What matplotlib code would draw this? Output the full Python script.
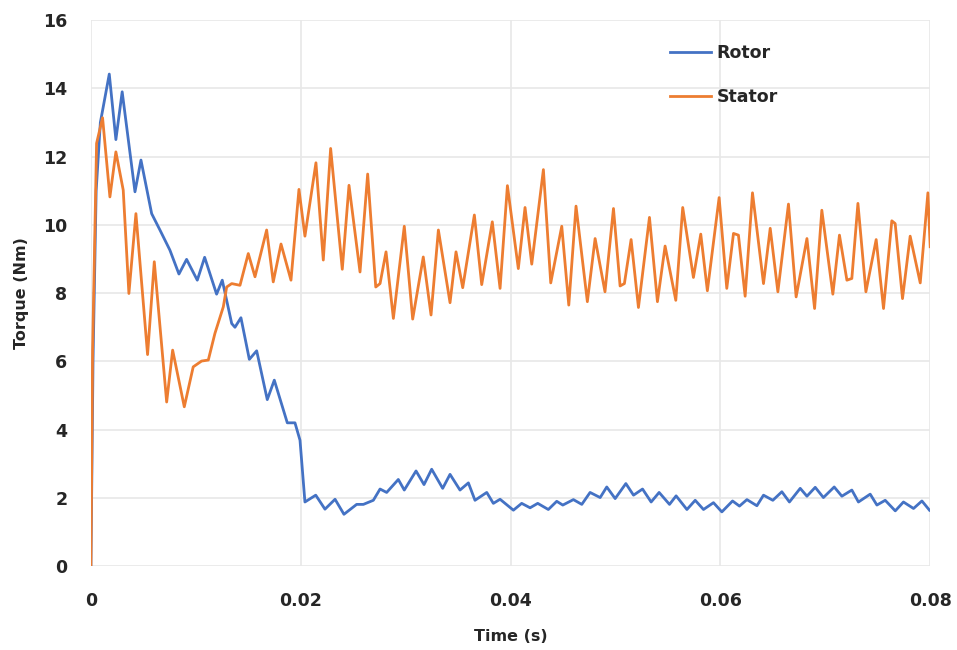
import matplotlib.pyplot as plt
from matplotlib.ticker import FixedLocator, FixedFormatter

# values (time in s, torque in Nm)
rotor_t = [0, 0.0002, 0.0005, 0.0009, 0.00175, 0.00238, 0.00298, 0.0042, 0.00477, 0.00579,
           0.00658, 0.00753, 0.00839, 0.00912, 0.01014, 0.01084, 0.01198, 0.01252, 0.01342,
           0.01373, 0.0143, 0.0151, 0.0158, 0.01681, 0.01748, 0.01872, 0.01945, 0.01993,
           0.0204, 0.02143, 0.02231, 0.02327, 0.02412, 0.02533, 0.02597, 0.02692, 0.02756,
           0.02819, 0.0293, 0.02987, 0.03099, 0.03175, 0.03248, 0.03353, 0.03423, 0.03518,
           0.03598, 0.03661, 0.03773, 0.03836, 0.039, 0.04027, 0.04106, 0.04186, 0.04259,
           0.0436, 0.0444, 0.04498, 0.04599, 0.04679, 0.04758, 0.04854, 0.04917, 0.04997,
           0.05099, 0.05172, 0.05258, 0.0534, 0.05416, 0.05515, 0.05578, 0.05681, 0.0576,
           0.05839, 0.05934, 0.06014, 0.06116, 0.06182, 0.06253, 0.06348, 0.06411, 0.065,
           0.06586, 0.06658, 0.06761, 0.06825, 0.06904, 0.06982, 0.07085, 0.07158, 0.07253,
           0.07316, 0.07428, 0.07492, 0.07571, 0.07667, 0.07745, 0.07841, 0.07921, 0.07993]
rotor_y = [0, 6.0, 11.0, 13.0, 14.42, 12.5, 13.9, 10.97, 11.9, 10.33,
           9.85, 9.26, 8.56, 8.99, 8.38, 9.05, 7.97, 8.38, 7.11,
           7.0, 7.28, 6.06, 6.31, 4.88, 5.45, 4.2, 4.2, 3.69,
           1.88, 2.08, 1.67, 1.96, 1.52, 1.81, 1.81, 1.93, 2.26,
           2.16, 2.54, 2.23, 2.79, 2.39, 2.84, 2.28, 2.69, 2.23,
           2.44, 1.93, 2.16, 1.84, 1.96, 1.64, 1.84, 1.71, 1.84,
           1.66, 1.9, 1.79, 1.95, 1.81, 2.16, 2.01, 2.32, 1.98,
           2.42, 2.08, 2.26, 1.88, 2.16, 1.81, 2.06, 1.66, 1.93,
           1.66, 1.86, 1.59, 1.91, 1.76, 1.95, 1.77, 2.08, 1.93,
           2.18, 1.88, 2.28, 2.05, 2.31, 2.01, 2.32, 2.05, 2.23,
           1.88, 2.11, 1.79, 1.93, 1.62, 1.88, 1.69, 1.91, 1.64]

stator_t = [0, 0.00016, 0.00054, 0.00111, 0.00181, 0.00238, 0.00308, 0.00362, 0.00429, 0.0054,
            0.00604, 0.00722, 0.00779, 0.0089, 0.00975, 0.01055, 0.01119, 0.01182, 0.01262,
            0.01294, 0.01342, 0.01421, 0.015, 0.01564, 0.01675, 0.01738, 0.01812, 0.01907,
            0.01983, 0.0204, 0.02145, 0.02215, 0.02285, 0.02396, 0.0246, 0.02565, 0.02638,
            0.02715, 0.02756, 0.02813, 0.02883, 0.02987, 0.03067, 0.03168, 0.03242, 0.03312,
            0.03423, 0.0348, 0.03544, 0.03655, 0.03725, 0.03826, 0.039, 0.0397, 0.04074,
            0.04138, 0.04202, 0.04313, 0.04383, 0.04488, 0.04555, 0.04624, 0.04732, 0.04806,
            0.049, 0.04981, 0.05044, 0.05085, 0.05149, 0.05219, 0.05324, 0.054, 0.05473,
            0.05575, 0.05641, 0.05743, 0.05813, 0.05876, 0.05988, 0.06061, 0.06125, 0.06172,
            0.06236, 0.06306, 0.06411, 0.06475, 0.06548, 0.06649, 0.06722, 0.06825, 0.06898,
            0.06967, 0.07072, 0.07135, 0.07206, 0.07253, 0.07311, 0.07387, 0.07485, 0.07555,
            0.07634, 0.07666, 0.07736, 0.07809, 0.07905, 0.07978, 0.08]
stator_y = [0, 6.33, 12.39, 13.14, 10.82, 12.14, 11.02, 7.99, 10.33, 6.2,
            8.92, 4.81, 6.33, 4.67, 5.84, 6.01, 6.04, 6.82, 7.6,
            8.18, 8.28, 8.23, 9.16, 8.48, 9.85, 8.33, 9.44, 8.38,
            11.04, 9.67, 11.82, 8.97, 12.24, 8.7, 11.16, 8.62, 11.49,
            8.18, 8.28, 9.21, 7.26, 9.96, 7.24, 9.06, 7.36, 9.85,
            7.72, 9.21, 8.16, 10.29, 8.25, 10.09, 8.14, 11.15, 8.72,
            10.51, 8.85, 11.62, 8.3, 9.96, 7.65, 10.55, 7.75, 9.6,
            8.04, 10.48, 8.21, 8.28, 9.57, 7.58, 10.22, 7.75, 9.38,
            7.79, 10.51, 8.46, 9.73, 8.07, 10.8, 8.14, 9.75, 9.7,
            7.91, 10.94, 8.28, 9.9, 8.04, 10.61, 7.89, 9.6, 7.55,
            10.43, 7.97, 9.7, 8.38, 8.43, 10.63, 8.04, 9.57, 7.55,
            10.12, 10.04, 7.84, 9.67, 8.3, 10.94, 9.36]

x_ticks = [0, 0.02, 0.04, 0.06, 0.08]
x_labels = ['0', '0.02', '0.04', '0.06', '0.08']
y_ticks = [0, 2, 4, 6, 8, 10, 12, 14, 16]
y_labels = ['0', '2', '4', '6', '8', '10', '12', '14', '16']

fig = plt.figure(figsize=(9.57, 6.5), dpi=100)
ax = fig.add_axes([0.095, 0.129, 0.877, 0.84])

ax.plot(rotor_t, rotor_y, color='#4472C4', linewidth=2.0, label='Rotor', solid_joinstyle='round')
ax.plot(stator_t, stator_y, color='#ED7D31', linewidth=2.0, label='Stator', solid_joinstyle='round')

ax.set_xlim(0, 0.08)
ax.set_ylim(0, 16)
ax.xaxis.set_major_locator(FixedLocator(x_ticks))
ax.xaxis.set_major_formatter(FixedFormatter(x_labels))
ax.yaxis.set_major_locator(FixedLocator(y_ticks))
ax.yaxis.set_major_formatter(FixedFormatter(y_labels))
ax.grid(True, color='#e8e8e8', linewidth=1.2)
ax.set_axisbelow(True)
for s in ax.spines.values():
    s.set_visible(False)
ax.tick_params(axis='x', length=0, labelsize=12.5, pad=18.5)
ax.tick_params(axis='y', length=0, labelsize=12.5, pad=17)
for lab in ax.get_xticklabels() + ax.get_yticklabels():
    lab.set_fontweight('bold')
    lab.set_color('#262626')

ax.set_xlabel('Time (s)', fontsize=11.5, fontweight='bold', color='#262626', labelpad=14)
ax.set_ylabel('Torque (Nm)', fontsize=11.5, fontweight='bold', color='#262626', labelpad=10)

ax.legend(loc='upper left', bbox_to_anchor=(0.671, 0.985), frameon=False,
          prop={'size': 12.5, 'weight': 'bold'}, handlelength=2.4, handletextpad=0.3,
          labelspacing=1.5, labelcolor='#262626')

fig.savefig('out.png', dpi=100)
